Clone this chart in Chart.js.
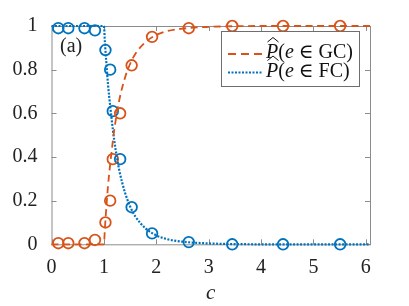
<!DOCTYPE html>
<html>
<head>
<meta charset="utf-8">
<script src="https://cdn.jsdelivr.net/npm/chart.js@4/dist/chart.umd.min.js"></script>
<style>
  html, body { margin: 0; padding: 0; background: #fff; }
  #wrap { width: 409px; height: 306px; }
  #warm { position: absolute; left: -999px; top: 0; font-family: "Liberation Serif"; font-size: 20px; }
</style>
</head>
<body>
<span id="warm">0.8 (a) <i>P e c</i> &#8712; GC FC</span>
<div id="wrap"><canvas id="myChart" width="409" height="306"></canvas></div>
<script>
//theory curves
var curveC  = [0, 0.5, 0.9, 1.0, 1.02, 1.05, 1.08, 1.1, 1.15, 1.2, 1.25, 1.3, 1.4, 1.5, 1.6, 1.8, 2.0, 2.2, 2.5, 3.0, 3.5, 4.0, 5.0, 6.08];
var curveGC = [0, 0, 0, 0, 0.076, 0.179, 0.271, 0.321, 0.430, 0.528, 0.604, 0.668, 0.761, 0.826, 0.872, 0.928, 0.959, 0.976, 0.988, 0.996, 0.999, 1, 1, 1];
var curveFC = [1, 1, 1, 1, 0.924, 0.821, 0.729, 0.679, 0.570, 0.472, 0.396, 0.332, 0.239, 0.174, 0.128, 0.072, 0.041, 0.024, 0.012, 0.004, 0.001, 0, 0, 0];
//simulation points (circles)
var pointC  = [0.13, 0.32, 0.63, 0.83, 1.03, 1.12, 1.17, 1.31, 1.53, 1.92, 2.62, 3.45, 4.42, 5.51];
var pointGC = [0.005, 0.005, 0.005, 0.02, 0.10, 0.20, 0.39, 0.60, 0.82, 0.95, 0.99, 1.0, 1.0, 1.0];
var pointFC = [0.99, 0.99, 0.99, 0.98, 0.89, 0.80, 0.61, 0.39, 0.17, 0.05, 0.01, 0.0, 0.0, 0.0];
//axes
var xTicks = [0, 1, 2, 3, 4, 5, 6];
var yTicks = [0, 0.2, 0.4, 0.6, 0.8, 1];
var yTickLabels = ['0', '0.2', '0.4', '0.6', '0.8', '1'];
var legendLabels = ['GC', 'FC'];

var RED = '#D95319';
var BLUE = '#0072BD';
var AXIS = '#8c8c8c';
var SERIF = '"Liberation Serif", "Times New Roman", "DejaVu Serif", serif';

function pairs(xs, ys) {
    var out = [];
    for (var i = 0; i < xs.length; i++) out.push({x: xs[i], y: ys[i]});
    return out;
}

//box + inward ticks, MATLAB style
var framePlugin = {
    id: 'frame',
    beforeDatasetsDraw: function(chart) {
        var ctx = chart.ctx, a = chart.chartArea;
        var xs = chart.scales.x, ys = chart.scales.y;
        var tl = 5;
        ctx.save();
        ctx.strokeStyle = AXIS;
        ctx.lineWidth = 1;
        ctx.strokeRect(a.left + 0.5, a.top + 0.5, a.right - a.left, a.bottom - a.top);
        ctx.beginPath();
        xTicks.forEach(function(v) {
            var px = Math.round(xs.getPixelForValue(v)) + 0.5;
            ctx.moveTo(px, a.bottom); ctx.lineTo(px, a.bottom - tl);
            ctx.moveTo(px, a.top); ctx.lineTo(px, a.top + tl);
        });
        yTicks.forEach(function(v) {
            var py = Math.round(ys.getPixelForValue(v)) + 0.5;
            ctx.moveTo(a.left, py); ctx.lineTo(a.left + tl, py);
            ctx.moveTo(a.right, py); ctx.lineTo(a.right - tl, py);
        });
        ctx.stroke();
        ctx.restore();
    },
    afterDatasetsDraw: function(chart) {
        var ctx = chart.ctx;
        ctx.save();
        //panel label
        ctx.fillStyle = '#222';
        ctx.font = '20px ' + SERIF;
        ctx.textBaseline = 'alphabetic';
        ctx.fillText('(a)', 60, 52);
        //legend box
        var bx = 221.5, by = 31.5, bw = 138, bh = 55;
        ctx.fillStyle = '#fff';
        ctx.fillRect(bx, by, bw, bh);
        ctx.strokeStyle = '#6e6e6e';
        ctx.lineWidth = 1;
        ctx.strokeRect(bx, by, bw, bh);
        //samples
        ctx.lineWidth = 2;
        ctx.strokeStyle = RED;
        ctx.setLineDash([8, 5]);
        ctx.beginPath(); ctx.moveTo(228, 54); ctx.lineTo(263, 54); ctx.stroke();
        ctx.strokeStyle = BLUE;
        ctx.setLineDash([2, 1.5]);
        ctx.beginPath(); ctx.moveTo(228, 72.5); ctx.lineTo(263, 72.5); ctx.stroke();
        ctx.setLineDash([]);
        drawMath(ctx, 266, 58, legendLabels[0]);
        drawMath(ctx, 266, 76.5, legendLabels[1]);
        ctx.restore();
    }
};

function drawMath(ctx, x, y, label) {
    var parts = [['P', 'italic '], ['(', ''], ['e', 'italic '], [' \u2208 ', ''], [label, ''], [')', '']];
    var cx = x;
    ctx.fillStyle = '#111';
    ctx.textBaseline = 'alphabetic';
    parts.forEach(function(p) {
        ctx.font = p[1] + '20px ' + SERIF;
        ctx.fillText(p[0], cx, y);
        cx += ctx.measureText(p[0]).width;
    });
    //wide hat over P
    ctx.strokeStyle = '#111';
    ctx.lineWidth = 1;
    ctx.beginPath();
    ctx.moveTo(x + 1.5, y - 16);
    ctx.lineTo(x + 7, y - 20.5);
    ctx.lineTo(x + 12.5, y - 16);
    ctx.stroke();
}

function makeChart() {
    var ctx = document.getElementById('myChart').getContext('2d');
    Chart.defaults.font.family = SERIF;
    Chart.defaults.color = '#222';
    return new Chart(ctx, {
        type: 'scatter',
        data: {
            datasets: [{
                data: pairs(curveC, curveGC),
                showLine: true,
                borderColor: RED,
                borderWidth: 1.8,
                borderDash: [7, 4.5],
                pointRadius: 0,
                cubicInterpolationMode: 'monotone',
                clip: false
            }, {
                data: pairs(curveC, curveFC),
                showLine: true,
                borderColor: BLUE,
                borderWidth: 2.2,
                borderDash: [2, 1.5],
                pointRadius: 0,
                cubicInterpolationMode: 'monotone',
                clip: false
            }, {
                data: pairs(pointC, pointGC),
                showLine: false,
                borderColor: RED,
                backgroundColor: 'rgba(0,0,0,0)',
                borderWidth: 1.8,
                pointRadius: 5.3,
                clip: false
            }, {
                data: pairs(pointC, pointFC),
                showLine: false,
                borderColor: BLUE,
                backgroundColor: 'rgba(0,0,0,0)',
                borderWidth: 1.8,
                pointRadius: 5.3,
                clip: false
            }]
        },
        options: {
            responsive: false,
            animation: false,
            events: [],
            layout: { padding: { left: 0, top: 22, right: 39, bottom: 0 } },
            plugins: {
                legend: { display: false },
                tooltip: { enabled: false }
            },
            scales: {
                x: {
                    type: 'linear',
                    min: 0,
                    max: 6.08,
                    afterBuildTicks: function(s) { s.ticks = xTicks.map(function(v) { return {value: v}; }); },
                    afterFit: function(s) { s.height = 61.7; },
                    grid: { display: false, drawTicks: false },
                    border: { display: false },
                    ticks: { font: { size: 20 }, padding: 11, maxRotation: 0, color: '#222' },
                    title: { display: true, text: 'c', font: { size: 21, style: 'italic' }, padding: { top: 0, bottom: 0 }, color: '#222' }
                },
                y: {
                    type: 'linear',
                    min: 0,
                    max: 1,
                    afterBuildTicks: function(s) { s.ticks = yTicks.map(function(v) { return {value: v}; }); },
                    afterFit: function(s) { s.width = 51.5; },
                    grid: { display: false, drawTicks: false },
                    border: { display: false },
                    ticks: {
                        font: { size: 20 },
                        padding: 14,
                        color: '#222',
                        callback: function(v) { return yTickLabels[yTicks.indexOf(v)]; }
                    }
                }
            }
        },
        plugins: [framePlugin]
    });
}

var myChart = makeChart();
if (document.fonts && document.fonts.load) {
    Promise.all([
        document.fonts.load('20px "Liberation Serif"'),
        document.fonts.load('italic 20px "Liberation Serif"')
    ]).then(function() { myChart.update(); myChart.draw(); });
}
</script>
</body>
</html>
